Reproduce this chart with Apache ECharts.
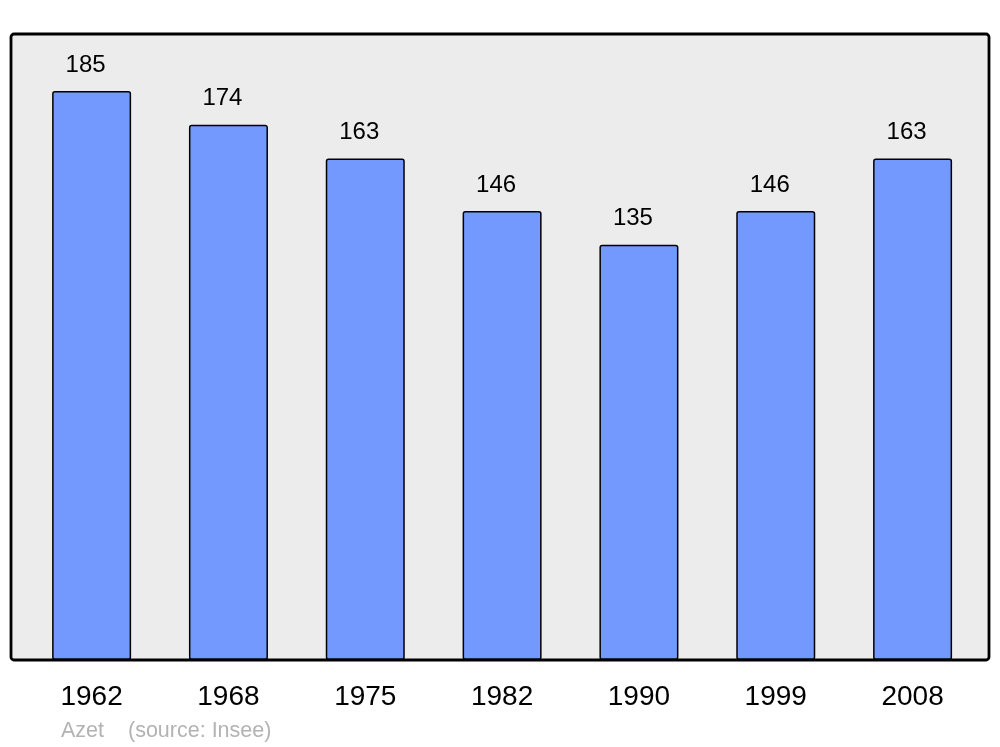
<!DOCTYPE html>
<html>
<head>
<meta charset="utf-8">
<script src="https://cdn.jsdelivr.net/npm/echarts@6/dist/echarts.min.js"></script>
<style>html,body{margin:0;padding:0;background:#fff;}#c{width:1000px;height:747px;}</style>
</head>
<body>
<div id="c"></div>
<script>
const years = ['1962', '1968', '1975', '1982', '1990', '1999', '2008'];
const population = [185, 174, 163, 146, 135, 146, 163];
const footAuthor = 'Azet';
const footSource = '(source: Insee)';

const FONT = 'Liberation Sans, Arial, sans-serif';
const chart = echarts.init(document.getElementById('c'), null, {renderer: 'canvas'});
chart.setOption({
  animation: false,
  backgroundColor: '#ffffff',
  textStyle: {fontFamily: FONT},
  grid: {left: 23.2, right: 19, top: 34, bottom: 87, containLabel: false},
  xAxis: {
    type: 'category',
    data: years,
    axisLine: {show: false},
    axisTick: {show: false},
    axisLabel: {color: '#000', fontSize: 28, margin: 23, fontFamily: FONT}
  },
  yAxis: {
    type: 'value', min: 0, max: 203.5,
    show: false,
    splitLine: {show: false}
  },
  graphic: [
    {type: 'rect', z: -10, silent: true,
     shape: {x: 11, y: 34, width: 978, height: 626, r: 3},
     style: {fill: '#ececec', stroke: null}},
    {type: 'rect', z: 100, silent: true,
     shape: {x: 11, y: 34, width: 978, height: 626, r: 3},
     style: {fill: null, stroke: '#000', lineWidth: 2.8}},
    {type: 'text', left: 61, top: 720, z: 100, silent: true,
     style: {text: footAuthor, fill: '#b3b3b3', fontSize: 21.5, fontFamily: FONT}},
    {type: 'text', left: 128, top: 720, z: 100, silent: true,
     style: {text: footSource, fill: '#b3b3b3', fontSize: 21.5, fontFamily: FONT}}
  ],
  series: [{
    type: 'bar',
    data: population,
    barWidth: 79,
    itemStyle: {color: '#7399ff', borderColor: '#000', borderWidth: 1.5, borderRadius: 2},
    label: {
      show: true, position: 'top', distance: 14, offset: [-6, 0],
      color: '#000', fontSize: 24, fontFamily: FONT
    }
  }]
});
</script>
</body>
</html>
